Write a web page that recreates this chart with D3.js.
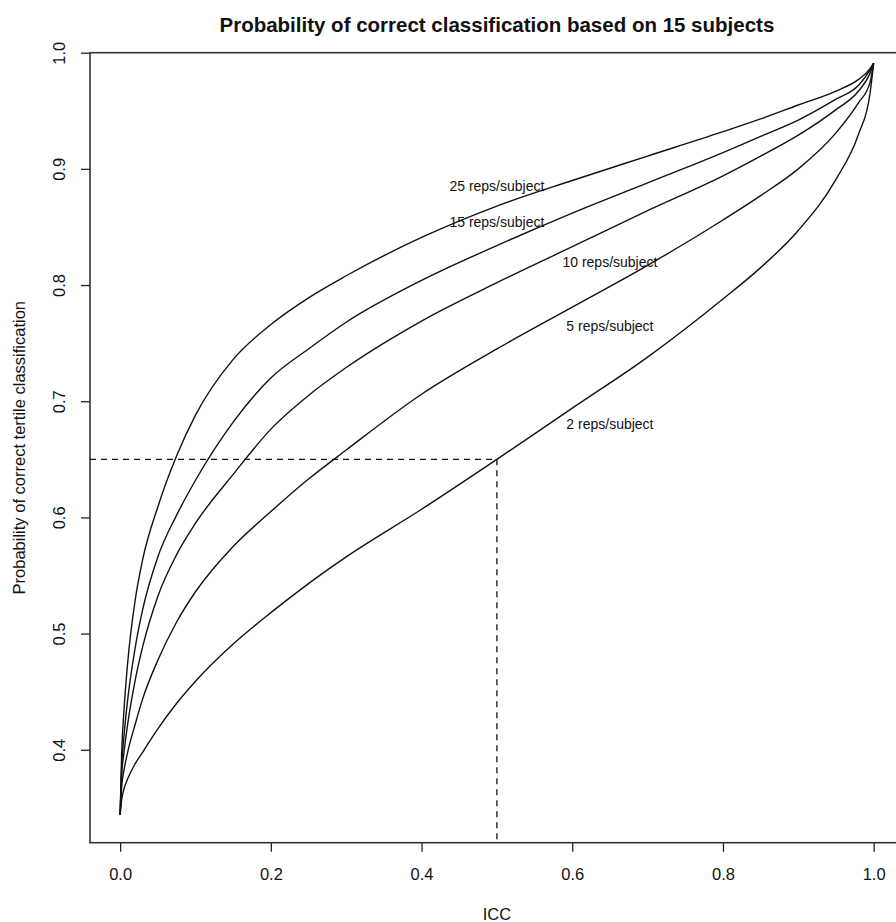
<!DOCTYPE html>
<html>
<head>
<meta charset="utf-8">
<script src="https://cdn.jsdelivr.net/npm/d3@7"></script>
<style>
body { margin: 0; background: #fff; }
text { font-family: "Liberation Sans", Arial, sans-serif; fill: #111; }
</style>
</head>
<body>
<script>
/* Data */
var icc = [0, 0.002, 0.005, 0.01, 0.02, 0.03, 0.05, 0.075, 0.1, 0.15, 0.2, 0.25, 0.3, 0.4, 0.5, 0.6, 0.7, 0.8, 0.85, 0.9, 0.95, 0.98, 0.995, 1.0];
var reps2  = [0.344, 0.357, 0.366, 0.375, 0.388, 0.398, 0.418, 0.440, 0.459, 0.491, 0.518, 0.543, 0.566, 0.607, 0.650, 0.694, 0.738, 0.788, 0.815, 0.847, 0.891, 0.930, 0.964, 0.991];
var reps5  = [0.344, 0.368, 0.382, 0.398, 0.422, 0.444, 0.477, 0.510, 0.536, 0.575, 0.605, 0.633, 0.658, 0.706, 0.745, 0.781, 0.817, 0.856, 0.877, 0.900, 0.931, 0.957, 0.974, 0.991];
var reps10 = [0.344, 0.378, 0.397, 0.422, 0.460, 0.489, 0.532, 0.568, 0.595, 0.637, 0.676, 0.705, 0.729, 0.769, 0.802, 0.833, 0.864, 0.894, 0.911, 0.929, 0.951, 0.967, 0.982, 0.991];
var reps15 = [0.344, 0.385, 0.411, 0.443, 0.488, 0.521, 0.566, 0.602, 0.632, 0.682, 0.720, 0.745, 0.768, 0.804, 0.834, 0.862, 0.888, 0.914, 0.928, 0.942, 0.960, 0.972, 0.985, 0.991];
var reps25 = [0.344, 0.397, 0.433, 0.475, 0.529, 0.564, 0.609, 0.653, 0.688, 0.736, 0.766, 0.789, 0.808, 0.841, 0.868, 0.890, 0.911, 0.932, 0.943, 0.955, 0.967, 0.977, 0.986, 0.991];
var seriesNames = ["2 reps/subject", "5 reps/subject", "10 reps/subject", "15 reps/subject", "25 reps/subject"];
var labelICC  = [0.65, 0.65, 0.65, 0.5, 0.5];
var labelProb = [0.68, 0.765, 0.82, 0.8545, 0.885];
var xTicks = [0, 0.2, 0.4, 0.6, 0.8, 1.0];
var yTicks = [0.4, 0.5, 0.6, 0.7, 0.8, 0.9, 1.0];
var cutICC = 0.5, cutProb = 0.65;

var WIDTH = 896, HEIGHT = 922;
var LEFT = 90, RIGHT = 903.8, TOP = 52.7, BOTTOM = 842.7;

var x = d3.scaleLinear().domain([-0.04, 1.04]).range([LEFT, RIGHT]);
var y = d3.scaleLinear().domain([0.32, 1.0]).range([BOTTOM, TOP]);

var svg = d3.select("body").append("svg")
    .attr("width", WIDTH)
    .attr("height", HEIGHT);

// title
svg.append("text")
    .attr("x", (LEFT + RIGHT) / 2)
    .attr("y", 25)
    .attr("dy", "0.35em")
    .attr("text-anchor", "middle")
    .style("font-size", "20.5px")
    .style("font-weight", "bold")
    .text("Probability of correct classification based on 15 subjects");

// axes
var xAxis = svg.append("g")
    .attr("transform", "translate(0," + BOTTOM + ")")
    .call(d3.axisBottom(x).tickValues(xTicks).tickFormat(d3.format(".1f")).tickSize(9).tickPadding(17));
xAxis.select(".domain").remove();
xAxis.selectAll("text").style("font-size", "16.5px").attr("fill", "#111");
xAxis.selectAll("line").attr("stroke", "#222").attr("stroke-width", 1.3);

var yAxis = svg.append("g")
    .attr("transform", "translate(" + LEFT + ",0)")
    .call(d3.axisLeft(y).tickValues(yTicks).tickFormat(d3.format(".1f")).tickSize(9));
yAxis.select(".domain").remove();
yAxis.selectAll("line").attr("stroke", "#222").attr("stroke-width", 1.3);
yAxis.selectAll("text")
    .style("font-size", "16.5px")
    .attr("fill", "#111")
    .attr("x", null)
    .attr("text-anchor", "middle")
    .attr("dy", "0.35em")
    .attr("transform", "translate(-31,0) rotate(-90)");

svg.append("text")
    .attr("transform", "translate(19," + (TOP + BOTTOM) / 2 + ") rotate(-90)")
    .attr("dy", "0.35em")
    .attr("text-anchor", "middle")
    .style("font-size", "16.5px")
    .text("Probability of correct tertile classification");

svg.append("text")
    .attr("x", x(0.5))
    .attr("y", 914)
    .attr("dy", "0.35em")
    .attr("text-anchor", "middle")
    .style("font-size", "16.5px")
    .text("ICC");

// plot box
svg.append("rect")
    .attr("x", LEFT).attr("y", TOP)
    .attr("width", RIGHT - LEFT).attr("height", BOTTOM - TOP)
    .attr("fill", "none")
    .attr("stroke", "#333")
    .attr("stroke-width", 1.6);

// curves
var series = [reps2, reps5, reps10, reps15, reps25];
var line = d3.line()
    .x(d => x(d[0]))
    .y(d => y(d[1]))
    .curve(d3.curveMonotoneX);

svg.append("g").selectAll("path")
    .data(series)
    .join("path")
    .attr("d", vals => line(icc.map((v, i) => [v, vals[i]])))
    .attr("fill", "none")
    .attr("stroke", "#111")
    .attr("stroke-width", 1.4);

// reference lines
svg.append("line")
    .attr("x1", x(-0.04)).attr("x2", x(cutICC))
    .attr("y1", y(cutProb)).attr("y2", y(cutProb))
    .attr("stroke", "#111").attr("stroke-width", 1.3)
    .attr("stroke-dasharray", "6,5");
svg.append("line")
    .attr("x1", x(cutICC)).attr("x2", x(cutICC))
    .attr("y1", y(cutProb)).attr("y2", y(0.32))
    .attr("stroke", "#111").attr("stroke-width", 1.3)
    .attr("stroke-dasharray", "6,5");

// curve labels
svg.append("g").selectAll("text")
    .data(seriesNames)
    .join("text")
    .attr("x", (d, i) => x(labelICC[i]))
    .attr("y", (d, i) => y(labelProb[i]))
    .attr("dy", "0.35em")
    .attr("text-anchor", "middle")
    .style("font-size", "14px")
    .text(d => d);
</script>
</body>
</html>
